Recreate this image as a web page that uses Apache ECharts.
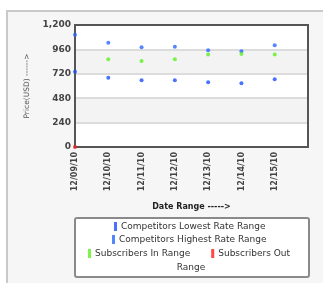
<!DOCTYPE html>
<html>
<head>
    <meta charset="utf-8">
    <title>Rate Range</title>
    <script src="https://cdn.jsdelivr.net/npm/echarts@6/dist/echarts.min.js"></script>
    <style type="text/css">
        html, body { margin: 0; padding: 0; background: #fff; }
        #main { width: 323px; height: 283px; }
    </style>
</head>
<body>
    <div id="main"></div>
    <script type="text/javascript">
        // last slot is empty, the axis runs one day past the data
        var dates = ['12/09/10', '12/10/10', '12/11/10', '12/12/10', '12/13/10', '12/14/10', '12/15/10', ''];
        var lowest = [740, 681, 656, 656, 636, 626, 666];
        var highest = [1105, 1026, 980, 986, 951, 941, 1000];
        var inRange = [null, 862, 846, 862, 911, 915, 911];
        var outRange = [0, null, null, null, null, null, null];
        var yTicks = [0, 240, 480, 720, 960, 1200];

        var font = 'DejaVu Sans';
        var chart = echarts.init(document.getElementById('main'));

        function legendBox(names, top, left, gap) {
            return {
                data: names,
                top: top,
                left: left,
                orient: 'horizontal',
                itemWidth: 3,
                itemHeight: 9,
                itemGap: gap || 10,
                icon: 'rect',
                padding: 0,
                selectedMode: false,
                textStyle: { fontFamily: font, fontSize: 9, color: '#333', padding: [0, 0, 0, -1] },
                formatter: function (n) {
                    return n === 'Subscribers Out Range' ? 'Subscribers Out' : n;
                }
            };
        }

        function dots(name, data, color) {
            return {
                name: name, type: 'scatter', z: 10, clip: false,
                data: data, symbolSize: 4, itemStyle: { color: color }
            };
        }

        var option = {
            animation: false,
            textStyle: { fontFamily: font },
            graphic: {
                elements: [
                    {
                        type: 'rect', z: -10, silent: true,
                        shape: { x: 7, y: 11, width: 330, height: 290 },
                        style: { fill: '#f6f6f6', stroke: '#c9c9c9', lineWidth: 2 }
                    },
                    {
                        // frame around the plot
                        type: 'rect', z: 1, silent: true,
                        shape: { x: 75, y: 25, width: 233, height: 122 },
                        style: { fill: null, stroke: '#555', lineWidth: 2 }
                    },
                    {
                        type: 'rect', z: 1, silent: true,
                        shape: { x: 75, y: 218, width: 234, height: 59, r: 2 },
                        style: { fill: '#fff', stroke: '#8a8a8a', lineWidth: 2 }
                    },
                    {
                        type: 'text', z: 5, silent: true,
                        x: 191, y: 268,
                        style: {
                            text: 'Range', fontFamily: font, fontSize: 9, fill: '#333',
                            align: 'center', verticalAlign: 'middle'
                        }
                    }
                ]
            },
            legend: [
                legendBox(['Competitors Lowest Rate Range'], 222, 114),
                legendBox(['Competitors Highest Rate Range'], 235, 112),
                legendBox(['Subscribers In Range', 'Subscribers Out Range'], 249, 88, 21)
            ],
            grid: {
                left: 75, right: 15, top: 25, bottom: 136,
                show: true,
                backgroundColor: '#fff',
                borderWidth: 0
            },
            xAxis: {
                type: 'category',
                data: dates,
                boundaryGap: false,
                name: 'Date Range ----->',
                nameLocation: 'middle',
                nameGap: 56,
                nameTextStyle: { fontFamily: font, fontSize: 8, fontWeight: 'bold', color: '#222' },
                axisLine: { show: false },
                axisTick: { show: false },
                axisLabel: {
                    interval: 0, rotate: 90, margin: 5,
                    fontFamily: font, fontSize: 8, fontWeight: 'bold', color: '#444'
                },
                splitLine: { show: false }
            },
            yAxis: {
                type: 'value',
                min: yTicks[0],
                max: yTicks[yTicks.length - 1],
                interval: 240,
                name: 'Price(USD) ------>',
                nameLocation: 'middle',
                nameGap: 44,
                nameRotate: 90,
                nameTextStyle: { fontFamily: font, fontSize: 7.5, color: '#555' },
                axisLine: { show: false },
                axisTick: { show: false },
                axisLabel: {
                    margin: 4, fontFamily: font, fontSize: 9, fontWeight: 'bold', color: '#444',
                    formatter: function (v) { return v.toLocaleString('en-US'); }
                },
                splitLine: { lineStyle: { color: '#dcdcdc', width: 2 } },
                splitArea: { show: true, areaStyle: { color: ['#ffffff', '#f3f3f3'] } }
            },
            series: [
                dots('Competitors Lowest Rate Range', lowest, '#1d4dff'),
                dots('Competitors Highest Rate Range', highest, '#2a66ff'),
                dots('Subscribers In Range', inRange, '#5cf022'),
                dots('Subscribers Out Range', outRange, '#ff1a1a')
            ]
        };
        chart.setOption(option);
    </script>
</body>
</html>
